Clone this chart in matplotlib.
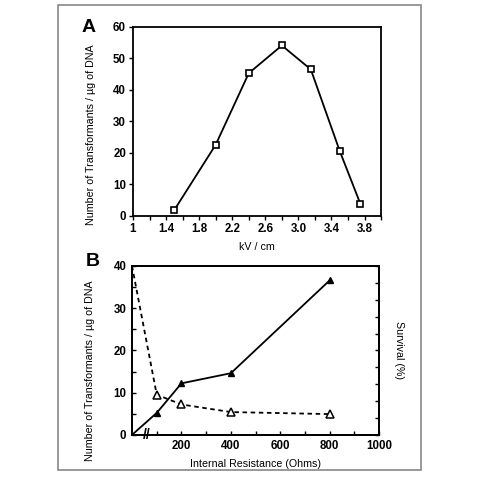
import numpy as np
import matplotlib.pyplot as plt
from matplotlib.patches import Rectangle

plt.rcParams['font.family'] = ['Liberation Sans', 'DejaVu Sans']

# panel A: field strength vs transformants
kv = [1.5, 2.0, 2.4, 2.8, 3.15, 3.5, 3.75]
transf_a = [1.9, 22.6, 45.3, 54.1, 46.5, 20.6, 3.8]
kv_ticks = [1.0, 1.4, 1.8, 2.2, 2.6, 3.0, 3.4, 3.8]
kv_labels = ['1', '1.4', '1.8', '2.2', '2.6', '3.0', '3.4', '3.8']

# panel B: internal resistance
ohms = [0, 100, 200, 400, 800]
transf_b = [0, 5.2, 12.2, 14.6, 36.6]
survival = [100, 23.8, 18.0, 13.5, 12.3]

fig = plt.figure(figsize=(4.8, 4.8), dpi=100)
fig.patches.append(Rectangle((58/480, 10/480), 363/480, 465/480, transform=fig.transFigure,
                             fill=False, edgecolor='#888888', linewidth=1.2))

tick_font = dict(fontsize=8.3, fontweight='bold')
lab_font = dict(fontsize=7.7)

# ---- A
axA = fig.add_axes([0.277, 0.55, 0.517, 0.394])
axA.plot(kv, transf_a, color='black', lw=1.3, marker='s', ms=5, mfc='white', mec='black', mew=1.2)
axA.set_xlim(1, 4)
axA.set_ylim(0, 60)
axA.set_xticks(kv_ticks)
axA.set_xticklabels(kv_labels, **tick_font)
axA.set_xticks(np.arange(1.2, 4.01, 0.4), minor=True)
axA.set_yticks(range(0, 61, 10))
axA.set_yticklabels([str(v) for v in range(0, 61, 10)], **tick_font)
axA.tick_params(which='both', direction='out', length=3, width=1, pad=2)
axA.set_xlabel('kV / cm', **lab_font, labelpad=5)
axA.set_ylabel('Number of Transformants / µg of DNA', **lab_font)
axA.yaxis.set_label_coords(-0.148, 0.43)
for s in axA.spines.values():
    s.set_linewidth(1.3)
fig.text(89/480, 1 - 27/480, 'A', fontsize=14, fontweight='bold', ha='center', va='center')

# ---- B
axB = fig.add_axes([0.275, 0.094, 0.515, 0.352])
axB.plot(ohms, transf_b, color='black', lw=1.3, marker='^', ms=4, mfc='black', mec='black',
         markevery=[1, 2, 3, 4])
axB.set_xlim(0, 1000)
axB.set_ylim(0, 40)
axB.set_xticks([200, 400, 600, 800, 1000])
axB.set_xticklabels(['200', '400', '600', '800', '1000'], **tick_font)
axB.set_xticks(range(100, 1000, 200), minor=True)
axB.set_yticks(range(0, 41, 10))
axB.set_yticklabels([str(v) for v in range(0, 41, 10)], **tick_font)
axB.set_yticks(range(5, 40, 10), minor=True)
axB.tick_params(which='both', direction='in', length=3, width=1, pad=4)
axB.set_xlabel('Internal Resistance (Ohms)', **lab_font, labelpad=5)
axB.set_ylabel('Number of Transformants / µg of DNA', **lab_font)
axB.yaxis.set_label_coords(-0.148, 0.38)

axS = axB.twinx()
axS.plot(ohms, survival, color='black', lw=1.3, ls=(0, (2.5, 2)), marker='^', ms=5.5,
         mfc='white', mec='black', mew=1.1, markevery=[1, 2, 3, 4])
axS.set_ylim(0, 100)
axS.set_yticks(range(0, 101, 10))
axS.set_yticklabels([])
axS.tick_params(direction='in', length=3, width=1)
axS.set_ylabel('Survival (%)', **lab_font, rotation=270, labelpad=14)
for ax in (axB, axS):
    for s in ax.spines.values():
        s.set_linewidth(1.3)

# axis break on x
axB.text(60, 0, '//', transform=axB.transData, ha='center', va='center', fontsize=10,
         fontweight='bold', clip_on=False)
fig.text(93/480, 1 - 262/480, 'B', fontsize=14, fontweight='bold', ha='center', va='center')

fig.savefig('out.png', dpi=100)
